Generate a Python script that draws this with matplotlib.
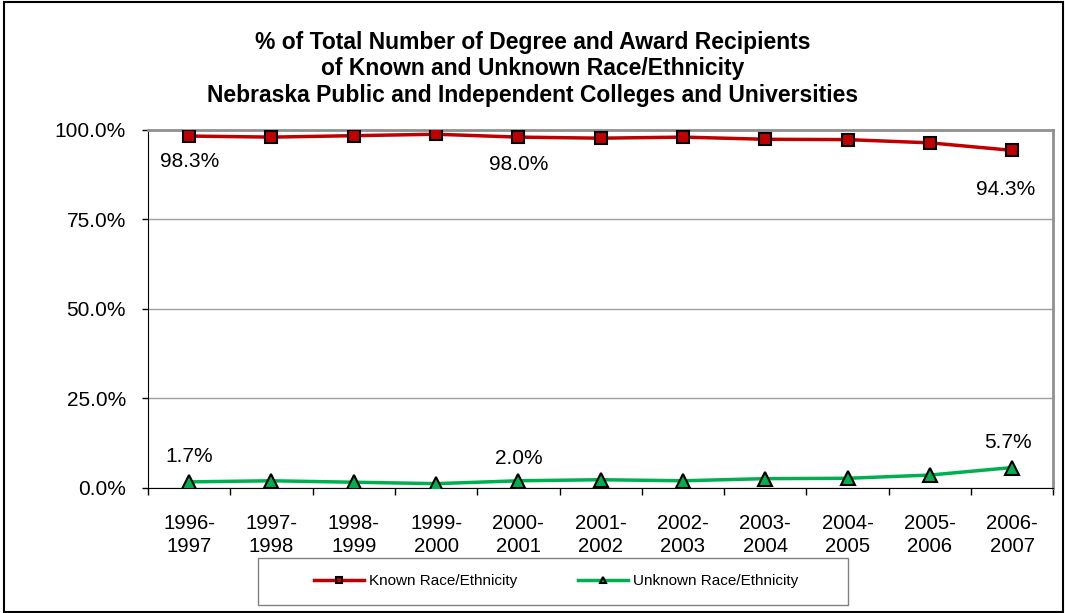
import matplotlib.pyplot as plt
import numpy as np

years = ["1996-\n1997", "1997-\n1998", "1998-\n1999", "1999-\n2000", "2000-\n2001",
         "2001-\n2002", "2002-\n2003", "2003-\n2004", "2004-\n2005", "2005-\n2006",
         "2006-\n2007"]
known = [98.3, 98.0, 98.4, 98.8, 98.0, 97.7, 98.0, 97.4, 97.3, 96.4, 94.3]
unknown = [1.7, 2.0, 1.6, 1.2, 2.0, 2.3, 2.0, 2.6, 2.7, 3.6, 5.7]
labelled = [0, 4, 10]

plt.rcParams["font.family"] = ["Liberation Sans", "DejaVu Sans"]

fig = plt.figure(figsize=(10.65, 6.13), dpi=100)
ax = fig.add_axes([0.139, 0.204, 0.850, 0.584])

x = np.arange(len(years))
ax.plot(x, known, color="#c00000", lw=2.5, marker="s", ms=8,
        mfc="#c00000", mec="black", mew=1.5, label="Known Race/Ethnicity", zorder=3)
ax.plot(x, unknown, color="#00b050", lw=2.5, marker="^", ms=10,
        mfc="#00b050", mec="black", mew=1.5, label="Unknown Race/Ethnicity", zorder=3)

# label offsets (points) as placed in the original chart
known_off = [(0, -18), (0, -19.5), (-5, -28)]
unknown_off = [(0, 18), (0, 16), (-3, 18)]
for i, ko, uo in zip(labelled, known_off, unknown_off):
    ax.annotate(f"{known[i]:.1f}%", (x[i], known[i]), xytext=ko,
                textcoords="offset points", ha="center", va="center", fontsize=15)
    ax.annotate(f"{unknown[i]:.1f}%", (x[i], unknown[i]), xytext=uo,
                textcoords="offset points", ha="center", va="center", fontsize=15)

ax.set_xlim(-0.5, len(years) - 0.5)
ax.set_ylim(0, 100)
ax.set_yticks([0, 25, 50, 75, 100])
ax.set_yticklabels([f"{v:.1f}%" for v in [0, 25, 50, 75, 100]], fontsize=15)
ax.set_xticks(x)
ax.set_xticklabels(years, fontsize=14.6, linespacing=1.25)
ax.set_xticks(np.arange(-0.5, len(years)), minor=True)
ax.tick_params(axis="x", which="major", length=0, pad=19)
ax.tick_params(axis="x", which="minor", length=5, direction="out", width=1)
ax.tick_params(axis="y", length=4, direction="out", width=1, pad=12)

ax.grid(axis="y", color="#a0a0a0", lw=1)
ax.set_axisbelow(True)
for side in ["top", "right"]:
    ax.spines[side].set_color("#909090")
    ax.spines[side].set_linewidth(2)
for side in ["left", "bottom"]:
    ax.spines[side].set_color("black")

fig.text(0.5, 0.888, "% of Total Number of Degree and Award Recipients\n"
         "of Known and Unknown Race/Ethnicity\n"
         "Nebraska Public and Independent Colleges and Universities",
         ha="center", va="center", fontsize=16.5, fontweight="bold", linespacing=1.2)

leg = fig.legend(loc="center", bbox_to_anchor=(0.522, 0.052), ncol=2, fontsize=11,
                 frameon=False, handlelength=3.3, handletextpad=0.3,
                 columnspacing=4, markerscale=0.5)

fig.patches.append(plt.Rectangle((0.242, 0.013), 0.554, 0.077, transform=fig.transFigure,
                                 fill=False, edgecolor="#808080", lw=1))
fig.patches.append(plt.Rectangle((0.004, 0.002), 0.994, 0.994, transform=fig.transFigure,
                                 fill=False, edgecolor="black", lw=1.5))

fig.savefig("out.png", dpi=100)
